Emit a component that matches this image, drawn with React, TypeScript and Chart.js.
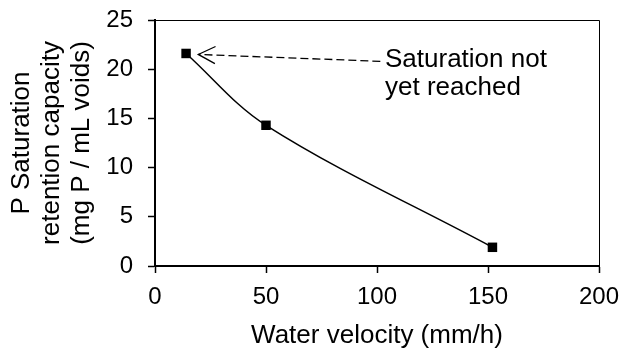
import React, { useEffect, useRef } from "react";
import { Chart, registerables } from "chart.js";

Chart.register(...registerables);

// ---- data ----
const velocity = [14, 50, 152]; // mm/h
const capacity = [21.6, 14.3, 1.9]; // mg P / mL voids
const xTickValues = [0, 50, 100, 150, 200];
const yTickValues = [0, 5, 10, 15, 20, 25];
const xTitle = "Water velocity (mm/h)";
const yTitle = ["P Saturation", "retention capacity", "(mg P / mL voids)"];
const noteLines = ["Saturation not", "yet reached"];
// annotation anchors in data units
const noteTextX = 103.6;
const noteBaselines = [20.2, 17.4];
const arrowStart = { x: 101.5, y: 20.8 };
const arrowTip = { x: 19.5, y: 21.5 };

const FONT = "'Liberation Sans', Arial, sans-serif";

const overlayPlugin = {
  id: "overlay",
  afterDraw(chart: any) {
    const { ctx, chartArea, scales } = chart;
    const { left, top, right, bottom } = chartArea;
    ctx.save();
    // thin frame top & right
    ctx.strokeStyle = "#000";
    ctx.lineWidth = 1;
    ctx.beginPath();
    ctx.moveTo(left, Math.round(top) + 0.5);
    ctx.lineTo(Math.round(right) + 0.5, Math.round(top) + 0.5);
    ctx.lineTo(Math.round(right) + 0.5, bottom);
    ctx.stroke();

    const xs = scales.x;
    const ys = scales.y;
    // annotation text
    ctx.fillStyle = "#000";
    ctx.font = `26px ${FONT}`;
    ctx.textAlign = "left";
    ctx.textBaseline = "alphabetic";
    const tx = xs.getPixelForValue(noteTextX);
    noteLines.forEach((line, i) => {
      ctx.fillText(line, tx, ys.getPixelForValue(noteBaselines[i]));
    });
    // dashed arrow
    const sx = xs.getPixelForValue(arrowStart.x);
    const sy = ys.getPixelForValue(arrowStart.y);
    const ex = xs.getPixelForValue(arrowTip.x);
    const ey = ys.getPixelForValue(arrowTip.y);
    ctx.lineWidth = 1.3;
    ctx.setLineDash([8, 4]);
    ctx.beginPath();
    ctx.moveTo(sx, sy);
    ctx.lineTo(ex, ey);
    ctx.stroke();
    ctx.setLineDash([]);
    const ang = Math.atan2(sy - ey, sx - ex);
    const len = 19;
    const spread = 0.47;
    ctx.beginPath();
    ctx.moveTo(ex + len * Math.cos(ang - spread), ey + len * Math.sin(ang - spread));
    ctx.lineTo(ex, ey);
    ctx.lineTo(ex + len * Math.cos(ang + spread), ey + len * Math.sin(ang + spread));
    ctx.stroke();
    ctx.restore();
  },
};

export default function App() {
  const ref = useRef<HTMLCanvasElement | null>(null);
  useEffect(() => {
    document.body.style.margin = "0";
    const canvas = ref.current!;
    const chart = new Chart(canvas, {
      type: "scatter",
      data: {
        datasets: [
          {
            data: velocity.map((v, i) => ({ x: v, y: capacity[i] })),
            showLine: true,
            tension: 0.35,
            borderColor: "#000",
            borderWidth: 1.5,
            pointStyle: "rect",
            pointRadius: 6.7,
            pointBackgroundColor: "#000",
            pointBorderWidth: 0,
            clip: false as any,
          },
        ],
      },
      options: {
        responsive: false,
        animation: false,
        devicePixelRatio: 1,
        layout: { padding: { top: 20, right: 24, left: 0, bottom: 0 } },
        plugins: { legend: { display: false }, tooltip: { enabled: false } },
        scales: {
          x: {
            type: "linear",
            min: 0,
            max: 200,
            afterBuildTicks: (s: any) => {
              s.ticks = xTickValues.map((v) => ({ value: v }));
            },
            afterFit: (s: any) => {
              s.height = 85;
              s.paddingLeft = 0;
              s.paddingRight = 0;
            },
            ticks: {
              color: "#000",
              font: { family: FONT, size: 24 },
              padding: 10,
            },
            grid: {
              drawOnChartArea: false,
              drawTicks: true,
              tickLength: 7,
              tickWidth: 1.5,
              tickColor: "#000",
            },
            border: { display: true, color: "#000", width: 2 },
            title: {
              display: true,
              text: xTitle,
              color: "#000",
              font: { family: FONT, size: 26 },
              padding: { top: 0, bottom: 0 },
            },
          },
          y: {
            type: "linear",
            min: 0,
            max: 25,
            afterBuildTicks: (s: any) => {
              s.ticks = yTickValues.map((v) => ({ value: v }));
            },
            afterFit: (s: any) => {
              s.width = 155;
              s.paddingTop = 0;
              s.paddingBottom = 0;
            },
            ticks: {
              color: "#000",
              font: { family: FONT, size: 24 },
              padding: 15,
            },
            grid: {
              drawOnChartArea: false,
              drawTicks: true,
              tickLength: 7,
              tickWidth: 1.5,
              tickColor: "#000",
            },
            border: { display: true, color: "#000", width: 2 },
            title: {
              display: true,
              text: yTitle,
              color: "#000",
              font: { family: FONT, size: 26, lineHeight: 1.15 },
              padding: { top: 7, bottom: 0 },
            },
          },
        },
      },
      plugins: [overlayPlugin],
    });
    return () => chart.destroy();
  }, []);
  return (
    <div style={{ width: 623, height: 351, background: "#fff" }}>
      <canvas ref={ref} width={623} height={351} />
    </div>
  );
}
